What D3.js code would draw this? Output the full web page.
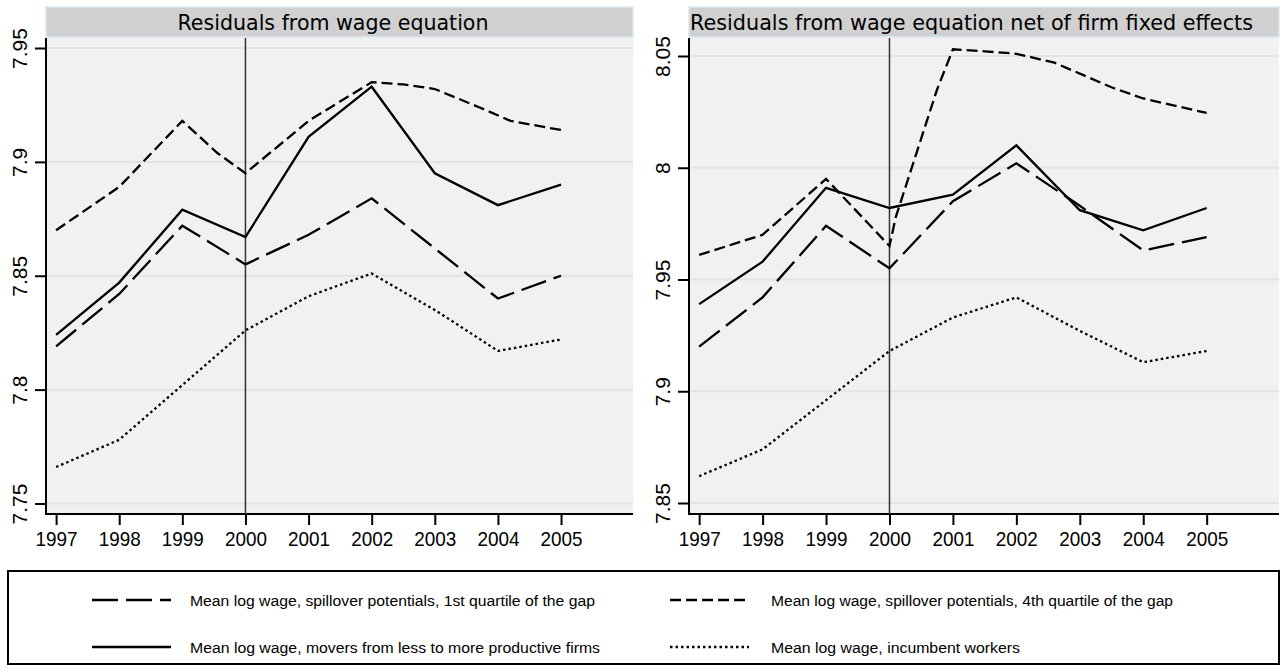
<!DOCTYPE html>
<html>
<head>
<meta charset="utf-8">
<script src="https://cdnjs.cloudflare.com/ajax/libs/d3/7.8.5/d3.min.js"></script>
<style>
  body { margin: 0; background: #fff; }
  text { font-family: "Liberation Sans", Arial, sans-serif; }
</style>
</head>
<body>
<script>
// yearly data
var years = [1997, 1998, 1999, 2000, 2001, 2002, 2003, 2004, 2005];

// left panel: residuals from wage equation
var leftQ1 = [7.819, 7.842, 7.872, 7.855, 7.868, 7.884, 7.862, 7.840, 7.850];
var leftMovers = [7.824, 7.847, 7.879, 7.867, 7.911, 7.933, 7.895, 7.881, 7.890];
var leftIncumbent = [7.766, 7.778, 7.802, 7.826, 7.841, 7.851, 7.835, 7.817, 7.822];
var leftQ4Years = [1997, 1998, 1999, 1999.55, 2000, 2001, 2002, 2002.5, 2003, 2003.7, 2004.2, 2005];
var leftQ4 = [7.870, 7.889, 7.918, 7.904, 7.895, 7.918, 7.935, 7.934, 7.932, 7.924, 7.918, 7.914];
var leftTicks = [7.75, 7.8, 7.85, 7.9, 7.95];
var leftTickLabels = ["7.75", "7.8", "7.85", "7.9", "7.95"];

// right panel: net of firm fixed effects
var rightQ1 = [7.920, 7.942, 7.974, 7.955, 7.985, 8.002, 7.983, 7.963, 7.969];
var rightMovers = [7.939, 7.958, 7.991, 7.982, 7.988, 8.010, 7.981, 7.972, 7.982];
var rightIncumbent = [7.862, 7.874, 7.896, 7.918, 7.933, 7.942, 7.927, 7.913, 7.918];
var rightQ4Years = [1997, 1998, 1999, 2000, 2000.1, 2000.75, 2001, 2001.55, 2002, 2002.6, 2003.5, 2004, 2005];
var rightQ4 = [7.961, 7.970, 7.995, 7.965, 7.978, 8.035, 8.053, 8.052, 8.051, 8.047, 8.036, 8.031, 8.0245];
var rightTicks = [7.85, 7.9, 7.95, 8, 8.05];
var rightTickLabels = ["7.85", "7.9", "7.95", "8", "8.05"];

var legendLabels = [
	"Mean log wage, spillover potentials, 1st quartile of the gap",
	"Mean log wage, spillover potentials, 4th quartile of the gap",
	"Mean log wage, movers from less to more productive firms",
	"Mean log wage, incumbent workers"
];

var dashQ1 = "26,8", dashQ4 = "11,5", dashMov = null, dashInc = "2.5,3";

var svg = d3.select("body").append("svg")
	.attr("width", 1286)
	.attr("height", 672);

var plotTop = 38, plotBottom = 514;

function drawPanel(opt){
	var g = svg.append("g");
	var x = d3.scaleLinear().domain([1996.84, 2006.14]).range([opt.x0, opt.x1]);
	var y = d3.scaleLinear().domain(opt.yDom).range(opt.yRange);

	// plot background
	g.append("rect")
		.attr("x", opt.x0).attr("y", plotTop)
		.attr("width", opt.x1 - opt.x0).attr("height", plotBottom - plotTop)
		.attr("fill", "#f1f1f1");

	// title box
	g.append("rect")
		.attr("x", opt.x0).attr("y", 7)
		.attr("width", opt.x1 - opt.x0).attr("height", 30)
		.attr("fill", "#d0d0d0")
		.attr("stroke", "#d8e8f0")
		.attr("stroke-width", 1.5);
	g.append("text")
		.attr("x", opt.titleX).attr("y", 30)
		.attr("text-anchor", opt.titleAnchor)
		.attr("textLength", opt.titleLen)
		.attr("lengthAdjust", "spacingAndGlyphs")
		.style("font-family", "'DejaVu Sans', sans-serif")
		.style("font-size", "21px")
		.attr("fill", "#000")
		.text(opt.title);

	// grid lines
	g.selectAll("line.grid")
		.data(opt.ticks)
		.enter().append("line")
		.attr("class", "grid")
		.attr("x1", opt.x0).attr("x2", opt.x1)
		.attr("y1", function(d){ return y(d); })
		.attr("y2", function(d){ return y(d); })
		.attr("stroke", "#e3e3e3")
		.attr("stroke-width", 2);

	// y axis
	var yAxis = g.append("g")
		.attr("transform", "translate(" + opt.x0 + ",0)")
		.call(d3.axisLeft(y).tickValues(opt.ticks).tickSize(11).tickSizeOuter(0)
			.tickFormat(function(d, i){ return opt.tickLabels[i]; }));
	yAxis.select(".domain").remove();
	yAxis.selectAll(".tick line").attr("stroke", "#000").attr("stroke-width", 2);
	yAxis.selectAll(".tick text")
		.attr("transform", "rotate(-90)")
		.attr("x", 0).attr("y", -19).attr("dy", 0)
		.attr("text-anchor", "middle")
		.style("font-size", "21px")
		.attr("fill", "#000");

	// x axis
	var xAxis = g.append("g")
		.attr("transform", "translate(0," + plotBottom + ")")
		.call(d3.axisBottom(x).tickValues(years).tickSize(11).tickSizeOuter(0)
			.tickFormat(d3.format("d")));
	xAxis.select(".domain").remove();
	xAxis.selectAll(".tick line").attr("stroke", "#000").attr("stroke-width", 2);
	xAxis.selectAll(".tick text")
		.attr("y", 32).attr("dy", 0)
		.attr("textLength", 42)
		.attr("lengthAdjust", "spacingAndGlyphs")
		.style("font-size", "21px")
		.attr("fill", "#000");

	// axis lines
	g.append("line")
		.attr("x1", opt.x0).attr("x2", opt.x0)
		.attr("y1", plotTop).attr("y2", plotBottom + 1)
		.attr("stroke", "#000").attr("stroke-width", 2);
	g.append("line")
		.attr("x1", opt.x0 - 1).attr("x2", opt.x1)
		.attr("y1", plotBottom).attr("y2", plotBottom)
		.attr("stroke", "#000").attr("stroke-width", 2);

	// reference line at 2000
	g.append("line")
		.attr("x1", x(2000)).attr("x2", x(2000))
		.attr("y1", plotTop).attr("y2", plotBottom)
		.attr("stroke", "#333").attr("stroke-width", 1.5);

	var line = d3.line()
		.x(function(d){ return x(d[0]); })
		.y(function(d){ return y(d[1]); });

	var series = [
		{xs: years, ys: opt.q1, dash: dashQ1},
		{xs: opt.q4Years, ys: opt.q4, dash: dashQ4},
		{xs: years, ys: opt.movers, dash: dashMov},
		{xs: years, ys: opt.incumbent, dash: dashInc}
	];
	series.forEach(function(s){
		g.append("path")
			.datum(s.xs.map(function(v, i){ return [v, s.ys[i]]; }))
			.attr("d", line)
			.attr("fill", "none")
			.attr("stroke", "#000")
			.attr("stroke-width", 2.3)
			.attr("stroke-dasharray", s.dash);
	});
}

drawPanel({
	x0: 46, x1: 633,
	yDom: [7.75, 7.95], yRange: [503.5, 48],
	ticks: leftTicks, tickLabels: leftTickLabels,
	title: "Residuals from wage equation",
	titleX: 333, titleAnchor: "middle", titleLen: 311,
	q1: leftQ1, q4Years: leftQ4Years, q4: leftQ4,
	movers: leftMovers, incumbent: leftIncumbent
});

drawPanel({
	x0: 689, x1: 1279,
	yDom: [7.85, 8.05], yRange: [503, 56],
	ticks: rightTicks, tickLabels: rightTickLabels,
	title: "Residuals from wage equation net of firm fixed effects",
	titleX: 690, titleAnchor: "start", titleLen: 563,
	q1: rightQ1, q4Years: rightQ4Years, q4: rightQ4,
	movers: rightMovers, incumbent: rightIncumbent
});

// legend
var legend = svg.append("g");
legend.append("rect")
	.attr("x", 8).attr("y", 571)
	.attr("width", 1271).attr("height", 93)
	.attr("fill", "#fff")
	.attr("stroke", "#000")
	.attr("stroke-width", 2);

var legendItems = [
	{lx: 92, tx: 190, ly: 600, dash: dashQ1, len: 405},
	{lx: 670, tx: 771, ly: 600, dash: dashQ4, len: 402},
	{lx: 92, tx: 190, ly: 647, dash: dashMov, len: 410},
	{lx: 670, tx: 771, ly: 647, dash: dashInc, len: 249}
];
legendItems.forEach(function(it, i){
	legend.append("line")
		.attr("x1", it.lx).attr("x2", it.lx + 79)
		.attr("y1", it.ly).attr("y2", it.ly)
		.attr("stroke", "#000")
		.attr("stroke-width", 2.5)
		.attr("stroke-dasharray", it.dash);
	legend.append("text")
		.attr("x", it.tx).attr("y", it.ly + 6)
		.attr("textLength", it.len)
		.attr("lengthAdjust", "spacingAndGlyphs")
		.style("font-size", "14px")
		.attr("fill", "#000")
		.text(legendLabels[i]);
});
</script>
</body>
</html>
